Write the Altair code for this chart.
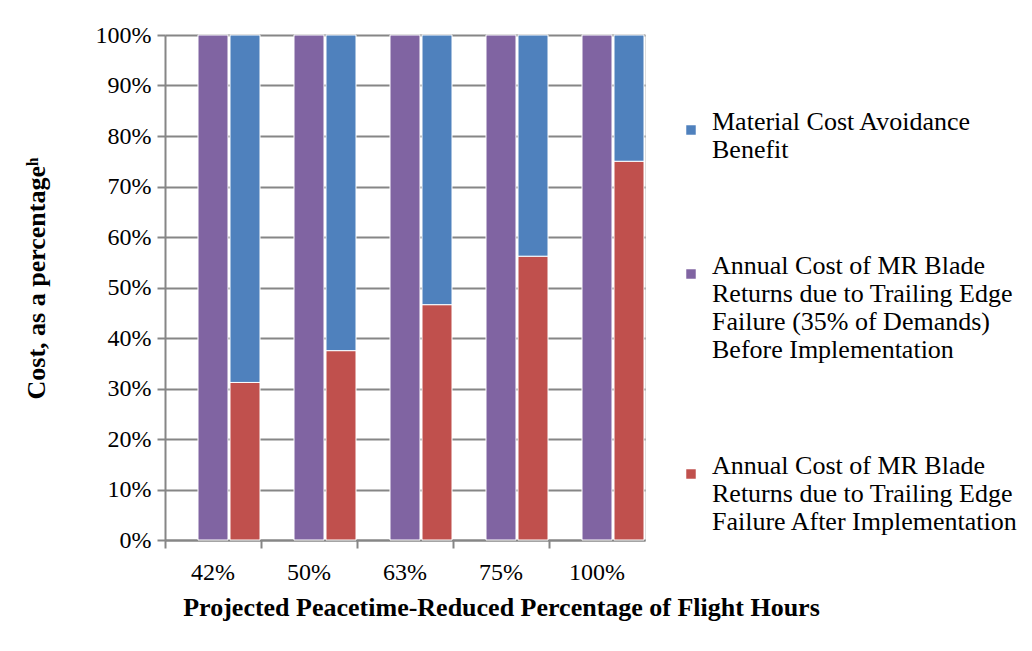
import altair as alt
import pandas as pd

categories = ["42%", "50%", "63%", "75%", "100%"]
before_values = [1.0, 1.0, 1.0, 1.0, 1.0]
after_values = [0.312, 0.375, 0.466, 0.562, 0.75]
benefit_values = [0.688, 0.625, 0.534, 0.438, 0.25]
y_ticks = [0.0, 0.1, 0.2, 0.3, 0.4, 0.5, 0.6, 0.7, 0.8, 0.9, 1.0]

s_benefit = "Material Cost Avoidance|Benefit"
s_before = "Annual Cost of MR Blade|Returns due to Trailing Edge|Failure (35% of Demands)|Before Implementation"
s_after = "Annual Cost of MR Blade|Returns due to Trailing Edge|Failure After Implementation"
series_order = [s_benefit, s_before, s_after]
series_colors = ["#4F81BD", "#8064A2", "#C0504D"]

rows = []
for c, b, a, m in zip(categories, before_values, after_values, benefit_values):
    rows.append({"cat": c, "series": s_before, "slot": "before", "value": b, "order": 0})
    rows.append({"cat": c, "series": s_after, "slot": "after", "value": a, "order": 0})
    rows.append({"cat": c, "series": s_benefit, "slot": "after", "value": m, "order": 1})
df = pd.DataFrame(rows)

FONT = "Liberation Serif"

chart = alt.Chart(df).mark_bar(stroke="white", strokeWidth=1).encode(
    x=alt.X("cat:N", sort=categories,
            scale=alt.Scale(paddingInner=0, paddingOuter=0),
            axis=alt.Axis(title="Projected Peacetime-Reduced  Percentage of Flight Hours",
                          labelAngle=0, labelFontSize=24, labelFont=FONT, labelColor="black",
                          labelPadding=12, titleFont=FONT, titleFontSize=26,
                          titleFontWeight="bold", titleColor="black", titlePadding=10,
                          titleX=336,
                          domainColor="#868686", domainWidth=2, tickColor="#868686",
                          tickWidth=2, tickSize=8, bandPosition=0, grid=False)),
    xOffset=alt.XOffset("slot:N", scale=alt.Scale(domain=["pad", "before", "after"],
                                                  paddingInner=0.0625, paddingOuter=0.03125)),
    y=alt.Y("value:Q", stack="zero",
            scale=alt.Scale(domain=[0, 1], nice=False),
            axis=alt.Axis(title="Cost, as a percentageʰ", format=".0%",
                          values=y_ticks, labelOverlap=False,
                          labelFontSize=24, labelFont=FONT, labelColor="black", labelPadding=6,
                          titleFont=FONT, titleFontSize=26, titleFontWeight="bold",
                          titleColor="black", titlePadding=46, titleY=243,
                          domainColor="#868686", domainWidth=2, tickColor="#868686",
                          tickWidth=2, tickSize=8, gridColor="#868686", gridWidth=2)),
    color=alt.Color("series:N", scale=alt.Scale(domain=series_order, range=series_colors),
                    legend=alt.Legend(title=None, orient="none", legendX=513, legendY=82,
                                      labelExpr="split(datum.label, '|')",
                                      labelFont=FONT, labelFontSize=26, labelColor="black",
                                      labelLimit=400, symbolType="square", symbolSize=90,
                                      symbolStrokeWidth=0, rowPadding=90, labelOffset=8,
                                      labelBaseline="alphabetic", padding=0)),
    order=alt.Order("order:Q"),
).properties(
    width=480, height=505,
    padding={"left": 15, "top": 15, "right": 0, "bottom": 5},
).configure_view(stroke=None).configure(background="white")

chart.save("out.html", embed_options={"renderer": "svg", "actions": False})
